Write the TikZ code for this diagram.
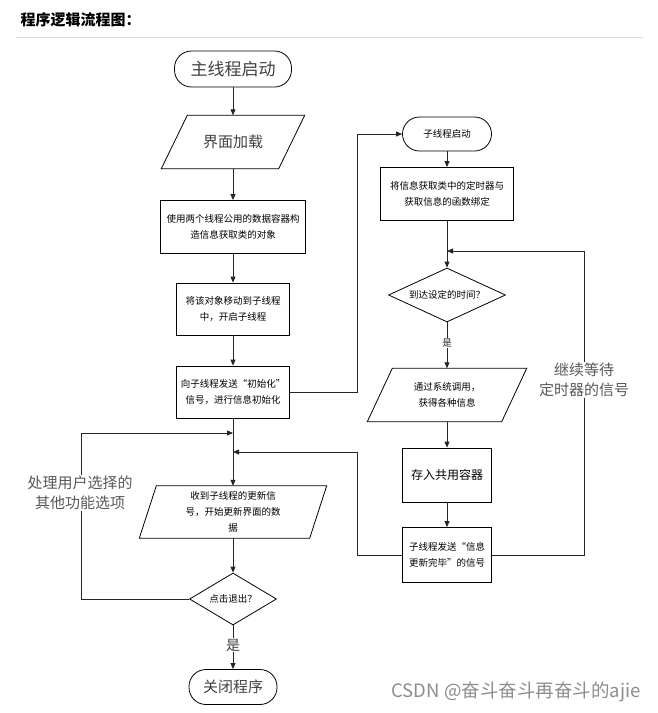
\documentclass[tikz,border=0pt]{standalone}
\usepackage{fontspec}
\setmainfont{Noto Sans CJK SC}
\usetikzlibrary{shapes.geometric,arrows.meta}

\begin{document}
\begin{tikzpicture}[x=1pt, y=-1pt,
    line/.style={line width=0.8pt, black!85},
    arr/.style={line, -{Triangle[length=6pt,width=5pt]}},
    box/.style={draw, line width=0.8pt, align=center, inner sep=1pt,
        font=\fontsize{9.5}{16}\selectfont},
    term/.style={box, rounded corners=17pt},
    para/.style={align=center, inner sep=1pt, font=\fontsize{9.5}{16}\selectfont},
    cond/.style={box, diamond, aspect=2.4, inner sep=0pt},
    note/.style={fill=white, align=center, inner sep=1pt, text=black!65,
        font=\fontsize{15}{20}\selectfont}]

        \pgfmathsetmacro{\XL}{233}
        \pgfmathsetmacro{\XR}{447}
        \useasboundingbox (0,0) rectangle (658,713);

        % 1. 标题
        \node[anchor=west, font=\fontsize{15}{18}\selectfont\bfseries] (title) at (17,20) {程序逻辑流程图：};
        \draw[black!15, line width=0.8pt] (16,37) -- (643,37);

        % 2. 主线程
        \node[term, minimum width=117, minimum height=36, text=black!75,
            font=\fontsize{17}{20}\selectfont] (start) at (\XL,69) {主线程启动};
        \node[para, minimum width=117, minimum height=53, text=black!75,
            font=\fontsize{15}{18}\selectfont] (load) at (\XL,142) {界面加载};
        \node[box, minimum width=145, minimum height=53] (make) at (\XL,227)
            {使用两个线程公用的数据容器构\\造信息获取类的对象};
        \node[box, minimum width=113, minimum height=52] (move) at (\XL,309)
            {将该对象移动到子线程\\中，开启子线程};
        \node[box, minimum width=113, minimum height=52] (init) at (\XL,392)
            {向子线程发送“初始化”\\信号，进行信息初始化};
        \node[para, minimum width=170, minimum height=52] (recv) at (\XL,512)
            {收到子线程的更新信\\号，开始更新界面的数\\据};
        \node[cond, minimum width=87, minimum height=52] (quit) at (\XL,599) {点击退出？};
        \node[term, minimum width=88, minimum height=35, text=black!75,
            font=\fontsize{15}{18}\selectfont] (close) at (\XL,687) {关闭程序};

        % 3. 子线程
        \node[term, minimum width=89, minimum height=34] (sub) at (\XR,134) {子线程启动};
        \node[box, minimum width=133, minimum height=53] (bind) at (\XR,194)
            {将信息获取类中的定时器与\\获取信息的函数绑定};
        \node[cond, minimum width=117, minimum height=54] (ask) at (\XR,295) {到达设定的时间？};
        \node[para, minimum width=134, minimum height=53] (sys) at (\XR,395)
            {通过系统调用，\\获得各种信息};
        \node[box, minimum width=89, minimum height=54,
            font=\fontsize{12}{14}\selectfont] (store) at (\XR,475) {存入共用容器};
        \node[box, minimum width=89, minimum height=55] (send) at (\XR,555)
            {子线程发送“信息\\更新完毕”的信号};

        % 平行四边形的边框
        \foreach \n/\s in {load/13, sys/12.5, recv/8.5}
            \draw[line width=0.8pt] ([xshift=\s]\n.north west) -- ([xshift=\s]\n.north east)
                -- ([xshift=-\s]\n.south east) -- ([xshift=-\s]\n.south west) -- cycle;

        % 4. 连接线
        \coordinate (r1) at (357,134);
        \coordinate (m1) at (\XL,433);
        \coordinate (m3) at (\XL,452);
        \coordinate (m2) at (\XR,251);
        \coordinate (lp) at (81,433);
        \coordinate (rr) at (584,251);
        \coordinate (rl) at (357,452);

        \draw[arr] (start) -- (load);
        \draw[arr] (load.south) -- (make);
        \draw[arr] (make) -- (move);
        \draw[arr] (move) -- (init);
        \draw[arr] (init) -- (recv.north);
        \draw[arr] (recv.south) -- (quit);
        \draw[arr] (quit) -- (close) node[pos=0.45, fill=white, inner sep=1pt,
            font=\fontsize{14}{16}\selectfont, text=black!75] (yes2) {是};
        \draw[arr] (quit.west) -| (lp) -- (m1);

        \draw[arr] (init.east) -| (r1) -- (sub);
        \draw[arr] (sub) -- (bind);
        \draw[arr] (bind) -- (ask);
        \draw[arr] (ask) -- (sys.north) node[pos=0.45, fill=white, inner sep=1pt,
            font=\fontsize{9.5}{12}\selectfont] (yes1) {是};
        \draw[arr] (sys.south) -- (store);
        \draw[arr] (store) -- (send);
        \draw[arr] (send.east) -| (rr) -- (m2);
        \draw[arr] (send.west) -| (rl) -- (m3);

        % 5. 说明文字
        \node[note] (wait) at (584,380) {继续等待\\定时器的信号};
        \node[note] (other) at (80,493) {处理用户选择的\\其他功能选项};
        \node[anchor=east, text=black!45, font=\fontsize{18.5}{20}\selectfont] (wm) at (644,692)
            {CSDN @奋斗奋斗再奋斗的ajie};
    \end{tikzpicture}
\end{document}
